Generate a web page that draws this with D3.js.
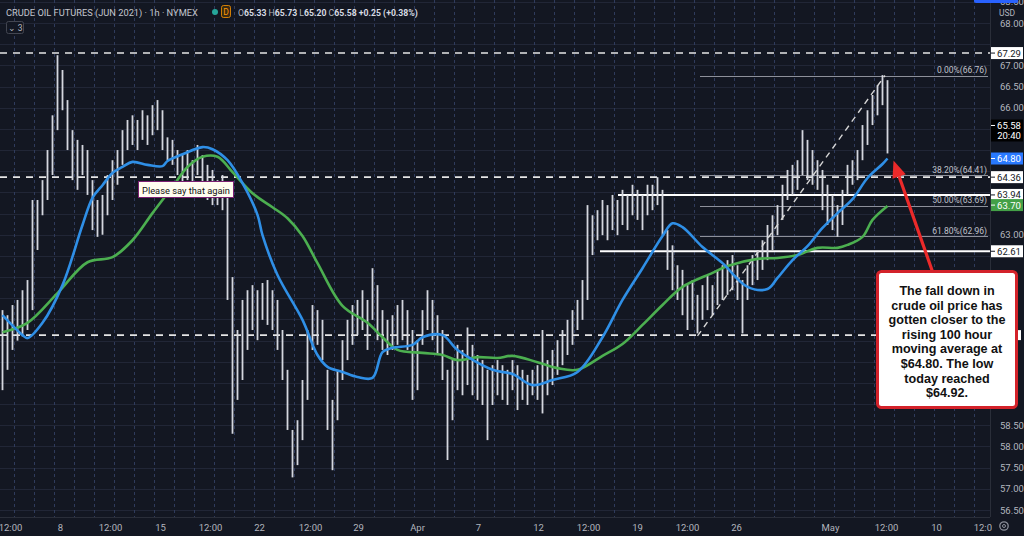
<!DOCTYPE html>
<html><head><meta charset="utf-8">
<script src="https://cdn.jsdelivr.net/npm/d3@7"></script>
<style>
html,body{margin:0;padding:0;background:#131722;}
svg{display:block;}
</style>
</head>
<body>
<svg id="c" width="1024" height="536"></svg>
<script>
// ---------- DATA ----------
// 6-hour price ranges, one entry per bar slot
const barLow = [59.33,59.81,60.28,60.50,60.60,60.75,61.22,62.64,63.46,63.82,64.41,65.47,65.94,65.00,64.29,64.06,64.41,63.94,63.11,62.95,
63.00,63.46,63.82,64.18,64.65,65.00,65.12,65.00,65.24,65.12,65.35,65.47,65.00,64.76,64.65,64.41,64.18,64.29,64.06,64.41,
63.94,63.82,63.70,63.70,63.58,61.46,58.30,59.10,59.57,60.28,60.75,60.51,60.99,60.87,60.75,60.28,59.57,58.39,57.27,57.56,
58.15,59.10,60.28,60.40,60.04,58.39,57.44,58.62,59.57,60.04,60.40,60.63,60.75,60.28,60.99,60.51,60.28,60.16,60.28,60.40,
60.51,60.28,59.10,59.33,60.40,60.75,60.51,60.16,59.57,57.68,58.62,59.33,59.21,59.45,59.21,59.10,58.98,58.15,58.98,59.21,
59.10,58.98,59.33,58.86,59.10,58.98,59.21,59.10,58.78,59.21,59.45,59.69,59.92,60.16,60.40,60.75,60.99,61.46,62.52,62.87,
62.99,62.87,63.11,62.99,63.23,63.11,63.46,63.35,63.11,63.46,63.58,63.70,62.99,62.17,61.69,61.46,61.10,60.75,60.99,60.67,
60.99,61.22,61.10,61.34,61.46,61.58,61.69,61.46,60.67,61.46,61.81,61.93,62.17,62.40,62.64,62.99,63.35,63.82,63.94,64.06,
64.41,64.29,64.18,64.06,63.58,63.23,63.11,62.95,63.23,63.94,64.18,64.29,64.76,65.12,65.59,65.82,66.06,64.92];
const barHigh = [61.22,61.10,61.34,61.46,61.69,61.93,63.82,63.82,64.29,65.00,65.82,67.24,66.89,66.18,65.47,65.24,65.12,65.00,64.29,63.82,
63.94,64.41,64.76,65.00,65.47,65.71,65.82,65.71,65.94,65.82,66.06,66.18,65.94,65.30,65.24,65.00,64.88,65.00,64.76,65.12,
64.88,64.65,64.53,64.29,64.41,64.18,62.00,60.75,61.46,61.69,61.81,61.69,61.86,61.93,61.69,61.46,60.75,59.81,58.39,58.62,
59.57,60.75,61.34,61.22,60.99,59.81,59.10,59.81,60.51,60.99,61.34,61.46,61.69,61.46,62.21,61.81,61.22,60.99,61.10,61.34,
61.46,61.22,60.75,60.51,61.22,61.69,61.46,61.10,60.75,59.81,60.04,60.40,60.28,60.81,60.40,60.16,60.04,59.81,59.92,60.04,
59.92,59.81,60.04,59.92,59.81,59.69,59.81,59.92,60.75,60.04,60.28,60.51,60.75,60.99,61.22,61.46,61.93,63.70,63.46,63.58,
63.82,63.70,63.94,63.82,64.06,63.94,64.18,64.06,63.94,64.18,64.18,64.36,64.06,63.11,62.75,62.28,62.17,61.81,61.93,61.58,
61.81,62.05,61.81,62.17,62.28,62.40,62.52,62.28,61.93,62.28,62.52,62.64,62.87,63.23,63.46,63.70,64.18,64.53,64.65,64.76,
65.47,65.24,65.00,64.76,64.53,64.18,63.94,63.70,64.06,64.65,64.76,65.00,65.59,65.94,66.30,66.53,66.77,66.65];

// 100-hour MA (blue): [slot, value]
const ma100Slot = [0,4,5,8,12,16,18,20,22,24,26,29,32,33,36,40,42,45,48,51,52,55,60,63,65,68,71,74,76,78,82,84,88,91,98,102,106,110,115,120,124,128,132,134,136,140,144,149,153,155,158,161,164,167,170,173,176,177];
const ma100Val  = [61.10,60.63,60.56,60.92,61.81,63.23,63.87,64.17,64.46,64.60,64.72,64.65,64.62,64.74,64.90,65.07,65.02,64.76,64.22,63.47,62.99,62.05,60.99,60.16,59.88,59.76,59.64,59.62,60.23,60.33,60.40,60.58,60.63,60.28,59.81,59.71,59.45,59.57,59.76,60.58,61.46,62.21,62.97,63.27,63.18,62.71,62.33,61.77,61.72,61.98,62.40,62.73,63.16,63.51,63.84,64.34,64.67,64.80];
// 200-hour MA (green): [slot, value]
const ma200Slot = [0,5,11,17,22,26,30,34,37,40,43,46,50,54,57,60,63,68,73,76,79,84,88,91,95,99,102,107,111,115,120,124,128,132,136,142,145,151,155,159,163,167,169,172,174,177];
const ma200Val  = [60.70,60.92,61.62,62.35,62.47,62.87,63.51,64.13,64.60,64.84,64.84,64.48,63.98,63.65,63.39,62.97,62.33,61.32,60.92,60.58,60.28,60.21,60.16,60.04,60.11,60.09,60.14,59.99,59.85,59.81,60.14,60.42,60.87,61.34,61.77,62.10,62.26,62.43,62.45,62.52,62.69,62.69,62.76,62.95,63.35,63.68];

// price axis ticks
const priceTicks = [56.5,57.0,57.5,58.0,58.5,59.0,59.5,60.0,60.5,61.0,61.5,62.0,62.5,63.0,63.5,64.0,64.5,65.0,65.5,66.0,66.5,67.0,67.5,68.0,68.5];
// time axis labels and their slot positions
const timeLabels = ["12:00","8","12:00","15","12:00","22","12:00","29","Apr","7","12","12:00","19","12:00","26","May","12:00","10","12:00"];
const timeSlots  = [2,12,22,32,42,51.8,62,71.6,83.4,95.6,107.6,117.6,127.4,137.4,147.2,166,177.2,187.2,197];

// horizontal levels
const dashedLevels = [67.29, 64.36, 60.63];
const solidLevels = [63.94, 62.61];
const solidStartSlot = [123.6, 120];
// fibonacci retracement (ratio %, value)
const fibRatio = ["0.00%","38.20%","50.00%","61.80%"];
const fibValue = [66.76, 64.41, 63.69, 62.96];
const fibStartSlot = 140;
const fibLowSlot = 139.5, fibLowValue = 60.61;
const fibHighSlot = 177, fibHighValue = 66.76;

// axis price labels
const axisLabelVals = [67.29, 64.36, 63.94, 62.61];
const lastPrice = 65.58, countdown = "20:40";
const maBlueLast = 64.80, maGreenLast = 63.70;

// ---------- DRAWING ----------
const W = 1024, H = 536, plotR = 990, plotB = 517;
const svg = d3.select("#c");
svg.append("rect").attr("width", W).attr("height", H).attr("fill", "#131722");

const x = d3.scaleLinear().domain([0, 198]).range([0, plotR]);
const y = d3.scaleLinear().domain([56.5, 68]).range([510, 23]);

function fitWidth(sel, target) {
  const n = sel.node();
  const w = n.getComputedTextLength();
  const fs = parseFloat(sel.attr("font-size"));
  if (w > 0) sel.attr("font-size", (fs * target / w).toFixed(2));
}

const defs = svg.append("defs");
defs.append("clipPath").attr("id", "plotclip").append("rect")
  .attr("x", 0).attr("y", 0).attr("width", plotR).attr("height", plotB);
defs.append("clipPath").attr("id", "timeclip").append("rect")
  .attr("x", 0).attr("y", plotB).attr("width", 992).attr("height", H - plotB);

const plot = svg.append("g").attr("clip-path", "url(#plotclip)");

// horizontal grid
plot.append("g").selectAll("line").data(priceTicks).join("line")
  .attr("x1", 0).attr("x2", plotR)
  .attr("y1", d => Math.round(y(d)) + 0.5).attr("y2", d => Math.round(y(d)) + 0.5)
  .attr("stroke", "#212636").attr("stroke-width", 1);

// vertical dashed grid
const vgrid = d3.range(2.8, 198, 4);
plot.append("g").selectAll("line").data(vgrid).join("line")
  .attr("x1", d => Math.round(x(d)) + 0.5).attr("x2", d => Math.round(x(d)) + 0.5)
  .attr("y1", 0).attr("y2", plotB)
  .attr("stroke", "#2f3b5c").attr("stroke-width", 1).attr("stroke-dasharray", "3,3");

// dashed white levels
plot.append("g").selectAll("line").data(dashedLevels).join("line")
  .attr("x1", 0).attr("x2", plotR)
  .attr("y1", d => y(d)).attr("y2", d => y(d))
  .attr("stroke", "#e6e6e6").attr("stroke-width", 1.6).attr("stroke-dasharray", "7,6");

// solid white levels
plot.append("g").selectAll("line").data(solidLevels).join("line")
  .attr("x1", (d, i) => x(solidStartSlot[i])).attr("x2", plotR)
  .attr("y1", d => y(d)).attr("y2", d => y(d))
  .attr("stroke", "#ffffff").attr("stroke-width", 2);

// fib lines
plot.append("g").selectAll("line").data(fibValue).join("line")
  .attr("x1", x(fibStartSlot)).attr("x2", 988)
  .attr("y1", d => Math.round(y(d)) + 0.5).attr("y2", d => Math.round(y(d)) + 0.5)
  .attr("stroke", "#8d909a").attr("stroke-width", 1);

// candles (high-low bars)
plot.append("g").selectAll("line").data(barLow).join("line")
  .attr("x1", (d, i) => x(i + 0.5)).attr("x2", (d, i) => x(i + 0.5))
  .attr("y1", d => y(d)).attr("y2", (d, i) => y(barHigh[i]))
  .attr("stroke", "#d4d7de").attr("stroke-width", 1.8);

// fib trend (dashed diagonal)
plot.append("line")
  .attr("x1", x(fibLowSlot)).attr("y1", y(fibLowValue))
  .attr("x2", x(fibHighSlot)).attr("y2", y(fibHighValue))
  .attr("stroke", "#d6d6d6").attr("stroke-width", 1.4).attr("stroke-dasharray", "6,5");

// moving averages
const line = d3.line().x(d => x(d[0] + 0.5)).y(d => y(d[1])).curve(d3.curveCatmullRom.alpha(0.5));
plot.append("path").datum(ma200Slot.map((s, i) => [s, ma200Val[i]]))
  .attr("d", line).attr("fill", "none").attr("stroke", "#4caf50").attr("stroke-width", 2.6);
plot.append("path").datum(ma100Slot.map((s, i) => [s, ma100Val[i]]))
  .attr("d", line).attr("fill", "none").attr("stroke", "#2f8fe6").attr("stroke-width", 2.6);

// fib labels
plot.append("g").selectAll("text").data(fibValue).join("text")
  .attr("x", 987).attr("y", d => y(d) - 2.5)
  .attr("text-anchor", "end").attr("font-family", "Roboto, 'Liberation Sans', sans-serif")
  .attr("font-size", 8.5).attr("fill", "#c0c3cb")
  .text((d, i) => fibRatio[i] + "(" + d.toFixed(2) + ")");

// ---------- PRICE AXIS ----------
const pa = svg.append("g").attr("transform", `translate(${plotR},0)`);
pa.append("line").attr("x1", 0.5).attr("x2", 0.5).attr("y1", 0).attr("y2", plotB).attr("stroke", "#2a2e39");
// hide ticks that sit under a label box or under the callout (as in the picture)
const boxVals = axisLabelVals.concat([maBlueLast, maGreenLast]);
const boxRanges = boxVals.map(v => [y(v) - 6, y(v) + 6])
  .concat([[y(lastPrice) - 6, y(lastPrice) + 16], [272, 404]]);
const shownTicks = priceTicks.filter(t => {
  const ty = y(t);
  return !boxRanges.some(([a, b]) => ty > a - 5 && ty < b + 5);
});
const yAxis = d3.axisRight(y).tickValues(shownTicks).tickFormat(d3.format(".2f")).tickSize(0).tickPadding(10);
pa.append("g").call(yAxis).call(g => {
  g.select(".domain").remove();
  g.selectAll("text").attr("font-family", "Roboto, 'Liberation Sans', sans-serif")
    .attr("font-size", 9.5).attr("fill", "#b2b5be");
});
pa.append("text").attr("x", 17).attr("y", 16).attr("text-anchor", "middle")
  .attr("font-family", "Roboto, sans-serif").attr("font-size", 8.5).attr("fill", "#b2b5be").text("USD");
// top blue tab
svg.append("rect").attr("x", 974).attr("y", -6).attr("width", 44).attr("height", 9).attr("rx", 2).attr("fill", "#2962ff");

function boxLabel(v, bg, fg, extra) {
  const g = pa.append("g").attr("transform", `translate(0,${y(v)})`);
  const h = extra ? 22 : 12;
  g.append("rect").attr("x", 1).attr("y", -6).attr("width", 32).attr("height", h).attr("fill", bg);
  g.append("line").attr("x1", 1).attr("x2", 5).attr("y1", 0).attr("y2", 0).attr("stroke", fg);
  g.append("text").attr("x", 19).attr("y", 3.5).attr("text-anchor", "middle")
    .attr("font-family", "Roboto, 'Liberation Sans', sans-serif").attr("font-size", 9.5).attr("fill", fg)
    .text(v.toFixed(2));
  if (extra) g.append("text").attr("x", 19).attr("y", 13.5).attr("text-anchor", "middle")
    .attr("font-family", "Roboto, 'Liberation Sans', sans-serif").attr("font-size", 9.5).attr("fill", fg).text(extra);
}
axisLabelVals.forEach(v => boxLabel(v, "#ffffff", "#131722"));
boxLabel(lastPrice, "#000000", "#ffffff", countdown);
boxLabel(maBlueLast, "#2979ff", "#ffffff");
boxLabel(maGreenLast, "#43a047", "#ffffff");
// sliver of the off-screen label of the lower dashed level
svg.append("rect").attr("x", 1017).attr("y", y(dashedLevels[2]) - 5).attr("width", 4).attr("height", 10).attr("fill", "#ffffff");

// ---------- TIME AXIS ----------
const ta = svg.append("g").attr("clip-path", "url(#timeclip)");
ta.append("line").attr("x1", 0).attr("x2", plotR).attr("y1", plotB + 0.5).attr("y2", plotB + 0.5).attr("stroke", "#2a2e39");
const xAxis = d3.axisBottom(x).tickValues(timeSlots).tickFormat((d, i) => timeLabels[i]).tickSize(0).tickPadding(7);
ta.append("g").attr("transform", `translate(0,${plotB})`).call(xAxis).call(g => {
  g.select(".domain").remove();
  g.selectAll("text").attr("font-family", "Roboto, 'Liberation Sans', sans-serif")
    .attr("font-size", 9.5).attr("fill", "#b2b5be");
});
// gear icon
const gear = svg.append("g").attr("transform", "translate(1004,526)");
gear.append("circle").attr("r", 4.2).attr("fill", "none").attr("stroke", "#8a8e99").attr("stroke-width", 1.3);
gear.append("circle").attr("r", 1.5).attr("fill", "none").attr("stroke", "#8a8e99").attr("stroke-width", 1);

// ---------- HEADER ----------
const hdr = svg.append("g").attr("font-family", "Roboto, 'Liberation Sans', sans-serif");
const title = hdr.append("text").attr("x", 6).attr("y", 16).attr("font-size", 10.5).attr("fill", "#c3c6ce")
  .text("CRUDE OIL FUTURES (JUN 2021) · 1h · NYMEX");
fitWidth(title, 192);
hdr.append("circle").attr("cx", 215).attr("cy", 12).attr("r", 3).attr("fill", "#26a69a");
hdr.append("rect").attr("x", 221.5).attr("y", 5.5).attr("width", 9).attr("height", 12).attr("rx", 2)
  .attr("fill", "#3a2a12").attr("stroke", "#ff9800").attr("stroke-width", 0.8);
hdr.append("text").attr("x", 226).attr("y", 15).attr("text-anchor", "middle").attr("font-size", 8.5)
  .attr("fill", "#ff9800").text("D");
const ohlc = hdr.append("text").attr("x", 238).attr("y", 16).attr("font-size", 9.5).attr("font-weight", "bold");
[["O", "65.33"], ["H", "65.73"], ["L", "65.20"], ["C", "65.58"]].forEach(([k, v]) => {
  ohlc.append("tspan").attr("fill", "#b2b5be").attr("font-weight", "normal").text(k);
  ohlc.append("tspan").attr("fill", "#d7dbe2").text(v + " ");
});
ohlc.append("tspan").attr("fill", "#d7dbe2").text("+0.25 (+0.38%)");
fitWidth(ohlc, 180);
// indicator toggle box
hdr.append("rect").attr("x", 6.5).attr("y", 21.5).attr("width", 17).attr("height", 12).attr("rx", 2)
  .attr("fill", "#131722").attr("stroke", "#434651");
hdr.append("text").attr("x", 15).attr("y", 31).attr("text-anchor", "middle").attr("font-size", 8.5)
  .attr("fill", "#b2b5be").text("⌄ 3");

// ---------- ANNOTATIONS ----------
// "Please say that again" note
const note = svg.append("g");
note.append("rect").attr("x", 138.5).attr("y", 181.5).attr("width", 95).attr("height", 16)
  .attr("fill", "#fffdf0").attr("stroke", "#7b1f73").attr("stroke-width", 1);
const nt = note.append("text").attr("x", 186).attr("y", 193.5).attr("text-anchor", "middle")
  .attr("font-family", "Roboto, 'Liberation Sans', sans-serif").attr("font-size", 10.5).attr("fill", "#111")
  .text("Please say that again");
fitWidth(nt, 88);

// red arrow to the MA
const tipX = x(177.5) + 6, tipY = y(maBlueLast) + 2;
const tailX = 933, tailY = 273;
const ang = Math.atan2(tipY - tailY, tipX - tailX);
const hl = 17, hw = 7;
const bx = tipX - hl * Math.cos(ang), by = tipY - hl * Math.sin(ang);
svg.append("line").attr("x1", tailX).attr("y1", tailY).attr("x2", bx).attr("y2", by)
  .attr("stroke", "#ec2a2a").attr("stroke-width", 3.2);
svg.append("path").attr("fill", "#ec2a2a")
  .attr("d", `M${tipX},${tipY} L${bx + hw * Math.sin(ang)},${by - hw * Math.cos(ang)} L${bx - hw * Math.sin(ang)},${by + hw * Math.cos(ang)} Z`);

// callout box
const cb = svg.append("g");
cb.append("rect").attr("x", 877.5).attr("y", 271.5).attr("width", 139).attr("height", 136).attr("rx", 4)
  .attr("fill", "#ffffff").attr("stroke", "#d3222a").attr("stroke-width", 3);
const lines = ["The fall down in", "crude oil price has", "gotten closer to the", "rising 100 hour",
  "moving average at", "$64.80. The low", "today reached", "$64.92."];
cb.append("g").selectAll("text").data(lines).join("text")
  .attr("x", 947).attr("y", (d, i) => 295 + i * 14.6).attr("text-anchor", "middle")
  .attr("font-family", "'Liberation Sans', Arial, sans-serif").attr("font-weight", "bold")
  .attr("font-size", 12.6).attr("fill", "#111").text(d => d);
</script>
</body></html>
